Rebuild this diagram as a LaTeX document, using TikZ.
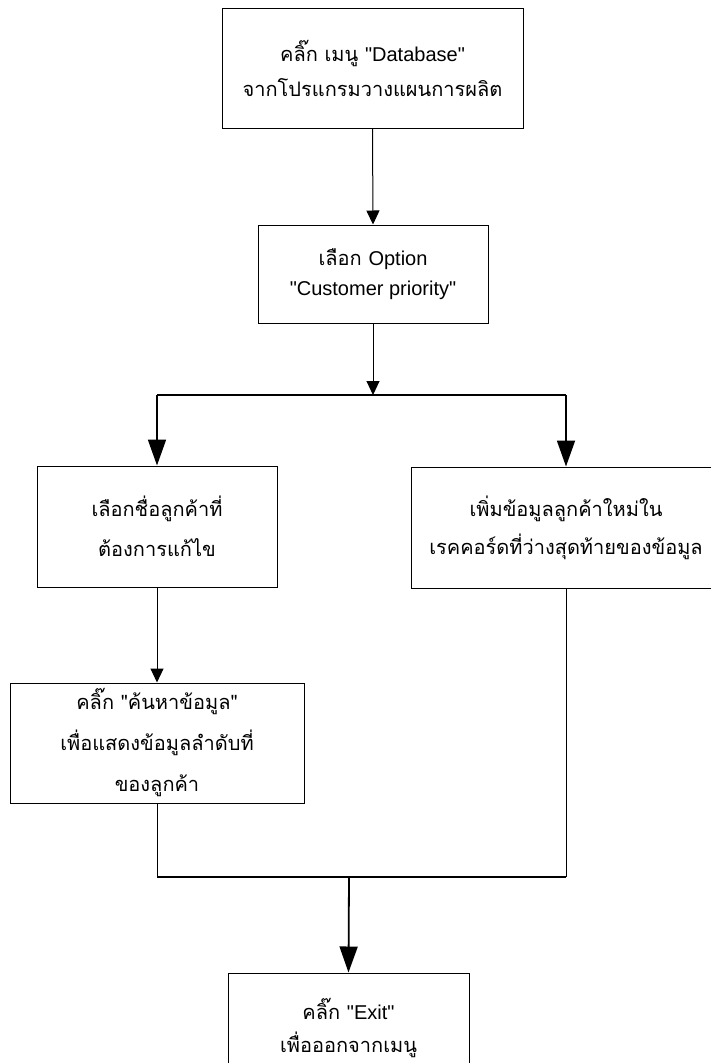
\documentclass[tikz,border=0pt]{standalone}
\usepackage{fontspec}
\setmainfont{Liberation Sans}
\newfontfamily\thaifont[Script=Thai]{Loma}
\newfontfamily\latinfont{Liberation Sans}
\newcommand{\en}[1]{{\latinfont #1}}
\usetikzlibrary{arrows.meta}
\begin{document}
\begin{tikzpicture}[x=1pt,y=-1pt,
  stepbox/.style={draw,line width=1pt,minimum width=#1,inner sep=0pt,align=center,
    font=\thaifont\fontsize{20}{35}\selectfont},
  conn/.style={line width=1pt,-{Triangle[length=14pt,width=13pt]}},
  thickline/.style={line width=1.8pt},
  bigconn/.style={line width=1.8pt,-{Triangle[length=26pt,width=18pt]}}]
\useasboundingbox (0,0) rectangle (711,1063);
\fill[white] (0,0) rectangle (711,1063);

% process boxes
\node[stepbox=301pt,minimum height=120pt] (b1) at (372.5,68)
  {คลิ๊ก เมนู \en{"Database"}\\จากโปรแกรมวางแผนการผลิต};
\node[stepbox=230pt,minimum height=98pt,font=\thaifont\fontsize{20}{30}\selectfont] (b2) at (373,274)
  {เลือก \en{Option}\\\en{"Customer priority"}};
\node[stepbox=240pt,minimum height=121pt,font=\thaifont\fontsize{20}{40}\selectfont] (b3) at (157,526.5)
  {เลือกชื่อลูกค้าที่\\ต้องการแก้ไข};
\node[stepbox=310pt,minimum height=121pt,font=\thaifont\fontsize{20}{38}\selectfont] (b4) at (566,527.5)
  {เพิ่มข้อมูลลูกค้าใหม่ใน\\เรคคอร์ดที่ว่างสุดท้ายของข้อมูล};
\node[stepbox=294pt,minimum height=120pt,font=\thaifont\fontsize{20}{41}\selectfont] (b5) at (157,743)
  {คลิ๊ก "ค้นหาข้อมูล"\\เพื่อแสดงข้อมูลลำดับที่\\ของลูกค้า};
\node[stepbox=241pt,minimum height=110pt,font=\thaifont\fontsize{20}{33}\selectfont] (b6) at (348.5,1028)
  {คลิ๊ก \en{"Exit"}\\เพื่อออกจากเมนู};

% branch and merge points
\coordinate (split) at (373,395);
\coordinate (merge) at (349,877);

% connectors
\draw[conn] (b1.south) -- (b2.north);
\draw[conn] (b2.south) -- (split);
\draw[thickline] (b3.north |- split) -- (b4.north |- split);
\draw[bigconn] (b3.north |- split) -- (b3.north);
\draw[bigconn] (b4.north |- split) -- (b4.north);
\draw[conn] (b3.south) -- (b5.north);
\draw[line width=1pt] (b5.south) -- (b5.south |- merge);
\draw[line width=1pt] (b4.south) -- (b4.south |- merge);
\draw[thickline] (b5.south |- merge) -- (b4.south |- merge);
\draw[bigconn] (merge) -- (b6.north);
\end{tikzpicture}
\end{document}
